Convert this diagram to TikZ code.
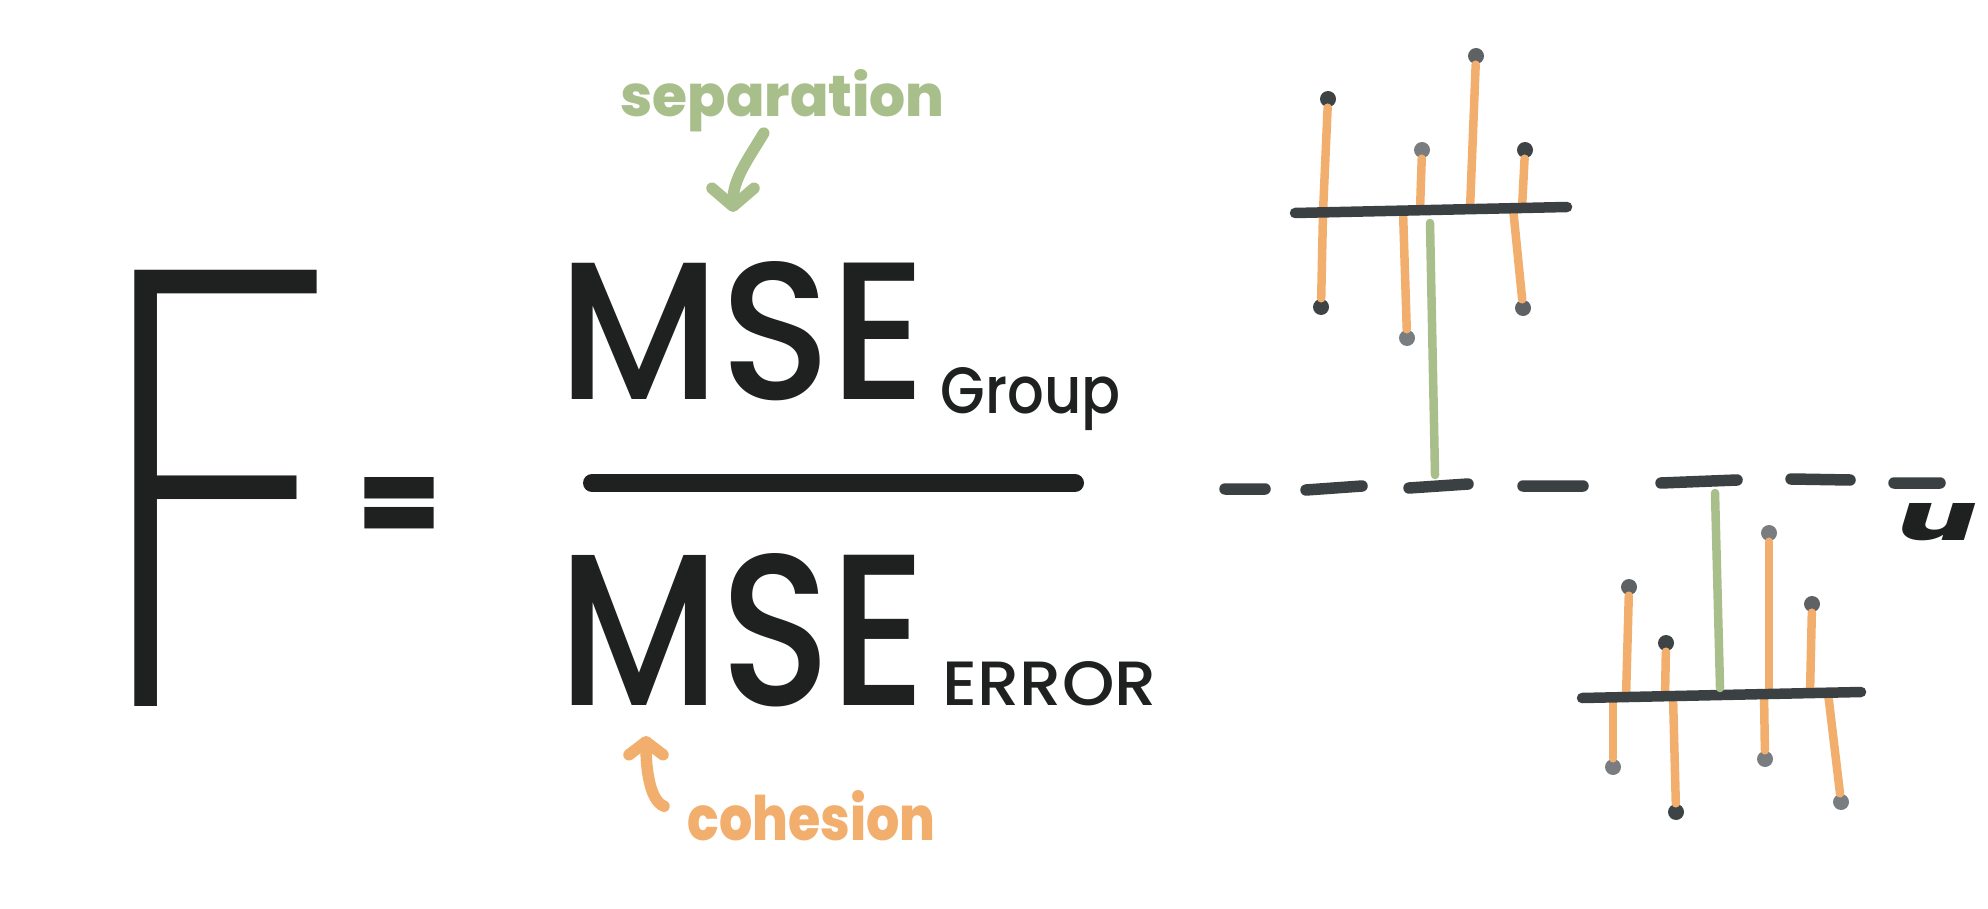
\documentclass[tikz,border=0pt]{standalone}
\usepackage{fontspec}
\setmainfont{Poppins}
\newfontfamily\thinfont{Poppins ExtraLight}
\newfontfamily\medfont{Poppins Medium}
\newfontfamily\heavyfont{Poppins ExtraBold}
\newfontfamily\blackfont{Poppins Black}
\usepackage{xcolor}
\usetikzlibrary{arrows.meta}

\definecolor{ink}{HTML}{1F2121}
\definecolor{plotgray}{HTML}{3B4143}
\definecolor{dotdark}{HTML}{3E4345}
\definecolor{dotmid}{HTML}{5E6264}
\definecolor{dotlight}{HTML}{7A7D80}
\definecolor{devorange}{HTML}{F2AE6D}
\definecolor{sepgreen}{HTML}{A9BF8B}

\begin{document}
\begin{tikzpicture}[
  x=0.1mm, y=-0.1mm,
  txt/.style={inner sep=0pt,anchor=base west,text=ink},
  datapt/.style={circle,inner sep=0pt,minimum size=1.6mm,fill=dotdark},
  datapt mid/.style={datapt,fill=dotmid},
  datapt light/.style={datapt,fill=dotlight},
  dev/.style={devorange,line width=0.85mm,line cap=round},
  sepline/.style={sepgreen,line width=0.85mm,line cap=round},
  meanline/.style={plotgray,line width=1.05mm,line cap=round},
  grand/.style={plotgray,line width=1.15mm,line cap=round},
  note/.style={line width=1.15mm,line cap=round,-{Straight Barb[round,length=1.8mm,width=4.2mm]}}
]
\useasboundingbox (0,0) rectangle (1988,909);

\node[txt] (F) at (93,706) {\resizebox{24.2mm}{43.6mm}{\thinfont F}};
\node[txt] (eq) at (362,539) {\resizebox{7.4mm}{6.2mm}{\blackfont =}};
\node[txt] (numer) at (558,400) {\resizebox{36.8mm}{13.8mm}{\medfont MSE}};
\node[txt] (denom) at (558,705) {\resizebox{36.8mm}{15.2mm}{\medfont MSE}};
\node[txt] (grp) at (940,413) {\resizebox{18mm}{4.6mm}{\medfont Group}};
\node[txt] (err) at (942,705) {\resizebox{21.4mm}{4.4mm}{\medfont ERROR}};
\node[txt,text=sepgreen] (sep) at (620,117) {\resizebox{32.4mm}{4.7mm}{\heavyfont separation}};
\node[txt,text=devorange] (coh) at (687,840) {\resizebox{24.8mm}{5mm}{\heavyfont cohesion}};
\node[txt] (mu) at (1898,540) {\resizebox{7.8mm}{3.7mm}{\heavyfont\itshape u}};

\draw[ink,line width=1.8mm,line cap=round] (592,483) -- (1075,483);

\coordinate (septip) at (733,212);
\coordinate (cohtip) at (646,736);
\draw[note,sepgreen] (sep.south) ++(-19,0) .. controls +(-15,25) and +(0,-33) .. (septip);
\draw[note,devorange,-{Straight Barb[round,length=1.3mm,width=3.4mm]}] (coh.west) ++(-23,-9) .. controls +(-15,-6) and +(0,30) .. (cohtip);

\node[datapt] (u1t) at (1328,99) {};
\node[datapt] (u1b) at (1321,307) {};
\node[datapt light] (u2t) at (1422,150) {};
\node[datapt light] (u2b) at (1407,338) {};
\node[datapt mid] (u3t) at (1476,56) {};
\node[datapt] (u4t) at (1525,150) {};
\node[datapt mid] (u4b) at (1523,308) {};
\draw[dev] (u1t) -- (1323,212);
\draw[dev] (u1b) -- (1323,212);
\draw[dev] (u2t) -- (1420,210);
\draw[dev] (u2b) -- (1403,211);
\draw[dev] (u3t) -- (1470,209);
\draw[dev] (u4t) -- (1522,208);
\draw[dev] (u4b) -- (1513,208);
\draw[meanline] (1295,213) -- (1567,207);
\draw[sepline] (1430,223) -- (1435,475);

\draw[grand] (1225,489) -- (1265,489) (1306,490) -- (1362,486) (1409,488) -- (1468,484)
  (1523,486) -- (1583,486) (1661,483) -- (1737,480) (1791,479) -- (1850,480) (1894,483) -- (1940,483);

\node[datapt mid] (l1t) at (1629,587) {};
\node[datapt light] (l1b) at (1613,767) {};
\node[datapt] (l2t) at (1666,643) {};
\node[datapt] (l2b) at (1676,812) {};
\node[datapt light] (l3t) at (1769,533) {};
\node[datapt light] (l3b) at (1765,759) {};
\node[datapt mid] (l4t) at (1812,604) {};
\node[datapt light] (l4b) at (1841,802) {};
\draw[dev] (l1t) -- (1626,697);
\draw[dev] (l1b) -- (1613,697);
\draw[dev] (l2t) -- (1665,696);
\draw[dev] (l2b) -- (1673,696);
\draw[dev] (l3t) -- (1769,694);
\draw[dev] (l3b) -- (1764,694);
\draw[dev] (l4t) -- (1810,693);
\draw[dev] (l4b) -- (1828,693);
\draw[meanline] (1582,698) -- (1861,692);
\draw[sepline] (1715,493) -- (1720,688);
\end{tikzpicture}
\end{document}
